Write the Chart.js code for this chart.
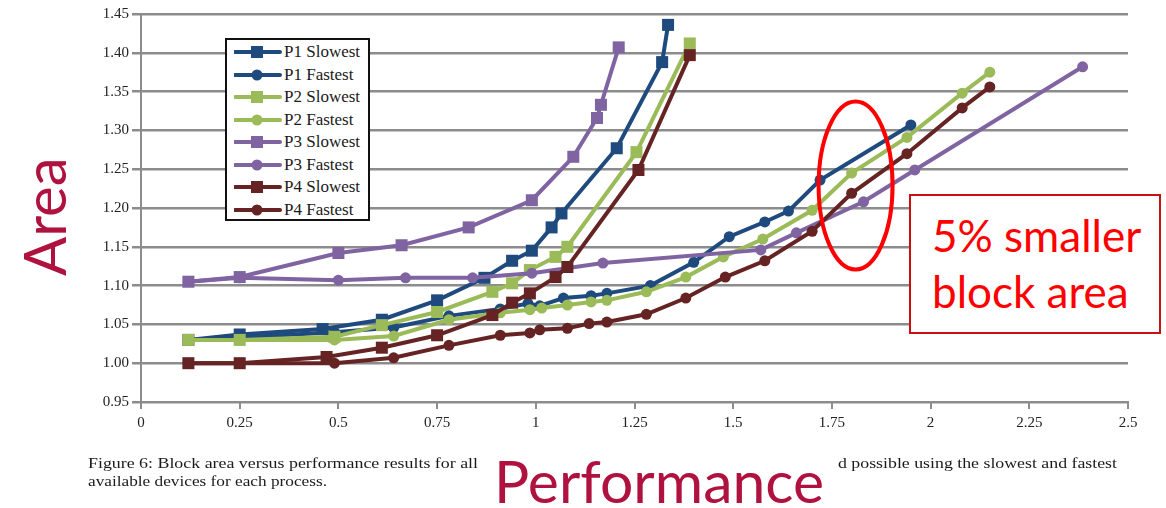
<!DOCTYPE html>
<html>
<head>
<meta charset="utf-8">
<script src="https://cdn.jsdelivr.net/npm/chart.js@4.4.1/dist/chart.umd.min.js"></script>
<style>
  html, body { margin: 0; padding: 0; background: #fff; }
  #wrap { position: relative; width: 1166px; height: 508px; overflow: hidden; background: #fff; }
  #chart { position: absolute; left: 0; top: 0; }
  .abs { position: absolute; white-space: nowrap; }
  .serif { font-family: "Liberation Serif", "Times New Roman", serif; color: #1a1a1a; }
  .fit { display: inline-block; transform-origin: 0 50%; }
  #legend { position: absolute; left: 225px; top: 38px; width: 141px; height: 179px;
            border: 2px solid #111; background: #fff; }
  .lg-row { position: absolute; left: 0; height: 22px; }
  .lg-row svg { position: absolute; left: 7px; top: 4px; }
  .lg-row span { position: absolute; left: 57px; top: 0; font-size: 17px; line-height: 22px; }
  .big { font-family: Lato, "Open Sans", sans-serif; color: #b0123f; font-size: 58px; line-height: 1; }
  #note { position: absolute; left: 909px; top: 194px; width: 248px; height: 136px;
          border: 2px solid #c81010; background: #fff; }
  #note div { position: absolute; left: 21px; font-family: Lato, "Open Sans", sans-serif;
              color: #ff0000; font-size: 44px; line-height: 1; }
</style>
</head>
<body>
<div id="wrap">
  <canvas id="chart" width="1166" height="508"></canvas>
  <div id="legend"></div>
  <div id="note"><div style="top:17px">5% smaller</div><div style="top:73px">block area</div></div>
  <div class="abs serif" style="left:88px; top:456px; font-size:14px;"><span class="fit" data-w="390">Figure 6: Block area versus performance results for all</span></div>
  <div class="abs serif" style="left:838px; top:456px; font-size:14px;"><span class="fit" data-w="279">d possible using the slowest and fastest</span></div>
  <div class="abs serif" style="left:88px; top:474px; font-size:14px;"><span class="fit" data-w="239">available devices for each process.</span></div>
  <div class="abs big" style="left:490px; top:452px; background:#fff; padding:0 8px 0 4px;"><span class="fit" data-w="330">Performance</span></div>
  <div class="abs big" style="left:-19px; top:182px; transform: rotate(-90deg); transform-origin: 64px 30px;"><span>Area</span></div>
</div>
<script>
// Block area versus performance, per process, slowest and fastest devices
const seriesNames = ['P1 Slowest', 'P1 Fastest', 'P2 Slowest', 'P2 Fastest',
                     'P3 Slowest', 'P3 Fastest', 'P4 Slowest', 'P4 Fastest'];

const p1Slowest = [[0.12,1.030],[0.25,1.037],[0.46,1.044],[0.61,1.056],[0.75,1.081],[0.87,1.110],
  [0.94,1.132],[0.99,1.145],[1.04,1.175],[1.065,1.193],[1.205,1.277],[1.32,1.388],[1.335,1.436]];
const p1Fastest = [[0.12,1.030],[0.25,1.033],[0.49,1.040],[0.64,1.046],[0.78,1.061],[0.91,1.070],
  [0.98,1.077],[1.01,1.074],[1.07,1.084],[1.14,1.087],[1.18,1.090],[1.29,1.100],[1.40,1.130],
  [1.49,1.163],[1.58,1.182],[1.64,1.196],[1.72,1.236],[1.95,1.307]];
const p2Slowest = [[0.12,1.030],[0.25,1.030],[0.49,1.034],[0.61,1.049],[0.75,1.066],[0.89,1.092],
  [0.94,1.103],[0.985,1.120],[1.05,1.137],[1.08,1.150],[1.255,1.272],[1.39,1.412]];
const p2Fastest = [[0.12,1.030],[0.25,1.030],[0.49,1.030],[0.64,1.035],[0.78,1.056],[0.91,1.065],
  [0.985,1.069],[1.015,1.071],[1.08,1.075],[1.14,1.079],[1.18,1.081],[1.28,1.092],[1.38,1.111],
  [1.475,1.137],[1.575,1.160],[1.70,1.197],[1.80,1.245],[1.94,1.291],[2.08,1.348],[2.15,1.375]];
const p3Slowest = [[0.12,1.105],[0.25,1.111],[0.50,1.142],[0.66,1.152],[0.83,1.175],[0.99,1.210],
  [1.095,1.266],[1.155,1.316],[1.165,1.333],[1.21,1.407]];
const p3Fastest = [[0.12,1.105],[0.25,1.110],[0.50,1.107],[0.67,1.110],[0.84,1.110],[0.99,1.116],
  [1.17,1.129],[1.57,1.146],[1.66,1.168],[1.83,1.208],[1.96,1.249],[2.385,1.382]];
const p4Slowest = [[0.12,1.000],[0.25,1.000],[0.47,1.008],[0.61,1.020],[0.75,1.036],[0.89,1.062],
  [0.94,1.078],[0.985,1.090],[1.05,1.111],[1.08,1.124],[1.26,1.249],[1.39,1.397]];
const p4Fastest = [[0.12,1.000],[0.25,1.000],[0.49,1.000],[0.64,1.007],[0.78,1.023],[0.91,1.036],
  [0.985,1.039],[1.01,1.043],[1.08,1.045],[1.135,1.051],[1.18,1.053],[1.28,1.063],[1.38,1.084],
  [1.48,1.111],[1.58,1.132],[1.70,1.170],[1.80,1.219],[1.94,1.270],[2.08,1.329],[2.15,1.356]];

const xTickLabels = ['0','0.25','0.5','0.75','1','1.25','1.5','1.75','2','2.25','2.5'];
const yTickLabels = ['0.95','1.00','1.05','1.10','1.15','1.20','1.25','1.30','1.35','1.40','1.45'];

const seriesData = [p1Slowest, p1Fastest, p2Slowest, p2Fastest, p3Slowest, p3Fastest, p4Slowest, p4Fastest];
const processColors = ['#1f4a7e', '#9bbb59', '#8064a2', '#652423'];

function styleFor(i) {
  const color = processColors[Math.floor(i / 2)];
  const square = i % 2 === 0;
  return { color, square };
}

const datasets = seriesData.map((pts, i) => {
  const s = styleFor(i);
  return {
    label: seriesNames[i],
    data: pts.map(p => ({ x: p[0], y: p[1] })),
    borderColor: s.color,
    backgroundColor: s.color,
    borderWidth: 4,
    pointStyle: s.square ? 'rect' : 'circle',
    pointRadius: s.square ? 8.5 : 5.5,
    pointBorderWidth: 0,
    pointBackgroundColor: s.color,
    tension: 0,
    order: seriesData.length - i
  };
});

// ellipse marking the region of interest, placed in data units
const ellipsePlugin = {
  id: 'regionEllipse',
  afterDatasetsDraw(chart) {
    const { ctx, scales } = chart;
    const cx = scales.x.getPixelForValue(1.81);
    const cy = scales.y.getPixelForValue(1.229);
    ctx.save();
    ctx.beginPath();
    ctx.ellipse(cx, cy, 37, 84, 0, 0, Math.PI * 2);
    ctx.strokeStyle = '#ff0000';
    ctx.lineWidth = 4;
    ctx.stroke();
    ctx.restore();
  }
};

const tickFont = { family: '"Liberation Serif", "Times New Roman", serif', size: 15 };

new Chart(document.getElementById('chart'), {
  type: 'line',
  data: { datasets },
  plugins: [ellipsePlugin],
  options: {
    responsive: false,
    animation: false,
    devicePixelRatio: 1,
    layout: { padding: { top: 14, right: 38, left: 0, bottom: 0 } },
    plugins: { legend: { display: false }, tooltip: { enabled: false } },
    scales: {
      x: {
        type: 'linear', min: 0, max: 2.5,
        afterFit(scale) { scale.height = 106; },
        afterBuildTicks(scale) { scale.ticks = xTickLabels.map((t, i) => ({ value: i * 0.25 })); },
        ticks: { stepSize: 0.25, color: '#222', font: tickFont, padding: 5, maxRotation: 0,
                 autoSkip: false, callback: (v, i) => xTickLabels[i] },
        grid: { drawOnChartArea: false, drawTicks: true, tickLength: 7, color: '#8c8c8c', lineWidth: 2 },
        border: { display: true, color: '#8c8c8c', width: 2 }
      },
      y: {
        type: 'linear', min: 0.95, max: 1.45,
        afterFit(scale) { scale.width = 141; },
        afterBuildTicks(scale) { scale.ticks = yTickLabels.map((t, i) => ({ value: 0.95 + i * 0.05 })); },
        ticks: { color: '#222', font: tickFont, padding: 3, autoSkip: false,
                 callback: (v, i) => yTickLabels[i] },
        grid: { drawTicks: true, tickLength: 9, color: '#8c8c8c', lineWidth: 2.5 },
        border: { display: true, color: '#8c8c8c', width: 2 }
      }
    }
  }
});

// legend entries, built from the series names and styles
const legend = document.getElementById('legend');
seriesNames.forEach((name, i) => {
  const s = styleFor(i);
  const row = document.createElement('div');
  row.className = 'lg-row';
  row.style.top = (1 + i * 22.5) + 'px';
  row.style.width = '141px';
  const marker = s.square
    ? `<rect x="17" y="1" width="12" height="12" fill="${s.color}"/>`
    : `<circle cx="23" cy="7" r="5.5" fill="${s.color}"/>`;
  row.innerHTML = `<svg width="48" height="14"><line x1="1" y1="7" x2="46" y2="7" stroke="${s.color}" stroke-width="4" stroke-linecap="round"/>${marker}</svg><span class="serif">${name}</span>`;
  legend.appendChild(row);
});

// stretch text runs to their set widths
document.querySelectorAll('.fit').forEach(el => {
  const w = parseFloat(el.dataset.w);
  const natural = el.getBoundingClientRect().width;
  if (natural > 0) el.style.transform = `scaleX(${w / natural})`;
});
</script>
</body>
</html>
